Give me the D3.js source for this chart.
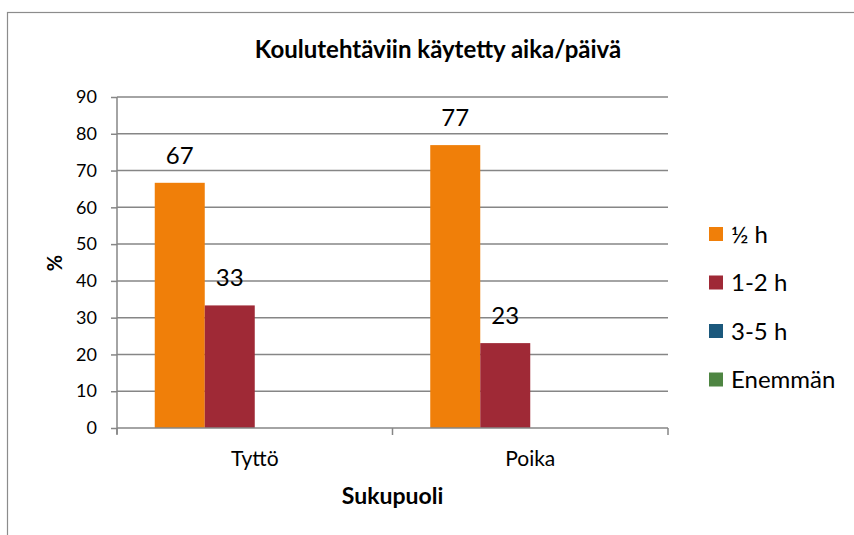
<!DOCTYPE html>
<html>
<head>
<meta charset="utf-8">
<script src="https://cdn.jsdelivr.net/npm/d3@7"></script>
<style>
  html, body { margin: 0; padding: 0; background: #fff; }
  svg { display: block; }
  text { font-family: Lato, "Open Sans", sans-serif; fill: #000; }
</style>
</head>
<body>
<svg id="chart" width="854" height="535"></svg>
<script>
const title = "Koulutehtäviin käytetty aika/päivä";
const categories = ["Tyttö", "Poika"];
const seriesNames = ["½ h", "1-2 h", "3-5 h", "Enemmän"];
const seriesColors = ["#F07F09", "#9F2936", "#1B587C", "#4E8542"];
const halfHour = [66.67, 76.92];
const oneTwoHours = [33.33, 23.08];
const threeFiveHours = [null, null];
const more = [null, null];
const seriesValues = [halfHour, oneTwoHours, threeFiveHours, more];
const yTicks = [0, 10, 20, 30, 40, 50, 60, 70, 80, 90];
const xTitle = "Sukupuoli";
const yTitle = "%";

const svg = d3.select("#chart");
const gridColor = "#868686";

// outer chart frame
svg.append("rect")
  .attr("x", 7.5).attr("y", 12.5)
  .attr("width", 900).attr("height", 600)
  .attr("fill", "none").attr("stroke", "#8c8c8c").attr("stroke-width", 1.2);

const plot = { left: 117, right: 668, top: 97, bottom: 428 };

const x = d3.scaleBand().domain(categories).range([plot.left, plot.right]);
const inner = d3.scaleBand().domain(seriesNames.map((d, i) => i))
  .range([0, x.bandwidth()]).paddingOuter(0.755).paddingInner(0);
const y = d3.scaleLinear().domain([0, 90]).range([plot.bottom, plot.top]);

// gridlines
svg.append("g")
  .selectAll("line")
  .data(yTicks.filter(d => d > 0))
  .join("line")
  .attr("x1", plot.left).attr("x2", plot.right)
  .attr("y1", d => y(d)).attr("y2", d => y(d))
  .attr("stroke", gridColor).attr("stroke-width", 1.5);

// bars and labels
seriesValues.forEach((vals, si) => {
  const g = svg.append("g");
  const data = categories.map((c, ci) => ({ c, v: vals[ci] })).filter(d => d.v != null);
  g.selectAll("rect").data(data).join("rect")
    .attr("x", d => x(d.c) + inner(si))
    .attr("width", inner.bandwidth())
    .attr("y", d => y(d.v))
    .attr("height", d => y(0) - y(d.v))
    .attr("fill", seriesColors[si]);
  g.selectAll("text").data(data).join("text")
    .attr("x", d => x(d.c) + inner(si) + inner.bandwidth() / 2)
    .attr("y", d => y(d.v) - 19)
    .attr("text-anchor", "middle")
    .attr("font-size", 24)
    .text(d => d3.format(".0f")(d.v));
});

// y axis
const yAxis = svg.append("g")
  .attr("transform", `translate(${plot.left},0)`)
  .call(d3.axisLeft(y).tickValues(yTicks).tickSize(6).tickPadding(14).tickFormat(d3.format("d")));
yAxis.selectAll("path, line").attr("stroke", gridColor).attr("stroke-width", 1.5);
yAxis.select(".domain").attr("d", `M0,${plot.top}V${plot.bottom + 6}`);
yAxis.selectAll("text").attr("font-size", 18).attr("font-family", "Lato, sans-serif").attr("fill", "#000");

// x axis
const xAxis = svg.append("g")
  .attr("transform", `translate(0,${plot.bottom})`)
  .call(d3.axisBottom(x).tickSize(0).tickPadding(0));
xAxis.select(".domain").attr("stroke", gridColor).attr("stroke-width", 1.5)
  .attr("d", `M${plot.left},0H${plot.right}`);
xAxis.selectAll(".tick text").attr("font-size", 21).attr("font-family", "Lato, sans-serif")
  .attr("fill", "#000").attr("dy", null).attr("y", 38);
// category boundary ticks
svg.append("g").selectAll("line")
  .data([categories[0], categories[1], null])
  .join("line")
  .attr("x1", d => d ? x(d) : plot.right)
  .attr("x2", d => d ? x(d) : plot.right)
  .attr("y1", plot.bottom).attr("y2", plot.bottom + 7)
  .attr("stroke", gridColor).attr("stroke-width", 1.5);

// titles
svg.append("text")
  .attr("x", 438).attr("y", 58)
  .attr("text-anchor", "middle")
  .attr("font-size", 24).attr("font-weight", "bold")
  .text(title);

svg.append("text")
  .attr("x", (plot.left + plot.right) / 2).attr("y", 504)
  .attr("text-anchor", "middle")
  .attr("font-size", 23).attr("font-weight", "bold")
  .text(xTitle);

svg.append("text")
  .attr("transform", "translate(62,263) rotate(-90)")
  .attr("text-anchor", "middle")
  .attr("font-size", 20).attr("font-weight", "bold")
  .text(yTitle);

// legend
const legend = svg.append("g").attr("transform", "translate(709,227)");
const li = legend.selectAll("g").data(seriesNames).join("g")
  .attr("transform", (d, i) => `translate(0,${i * 48.5})`);
li.append("rect").attr("width", 14).attr("height", 14)
  .attr("fill", (d, i) => seriesColors[i]);
li.append("text").attr("x", 22).attr("y", 15.5)
  .attr("font-size", 24).text(d => d);
</script>
</body>
</html>
